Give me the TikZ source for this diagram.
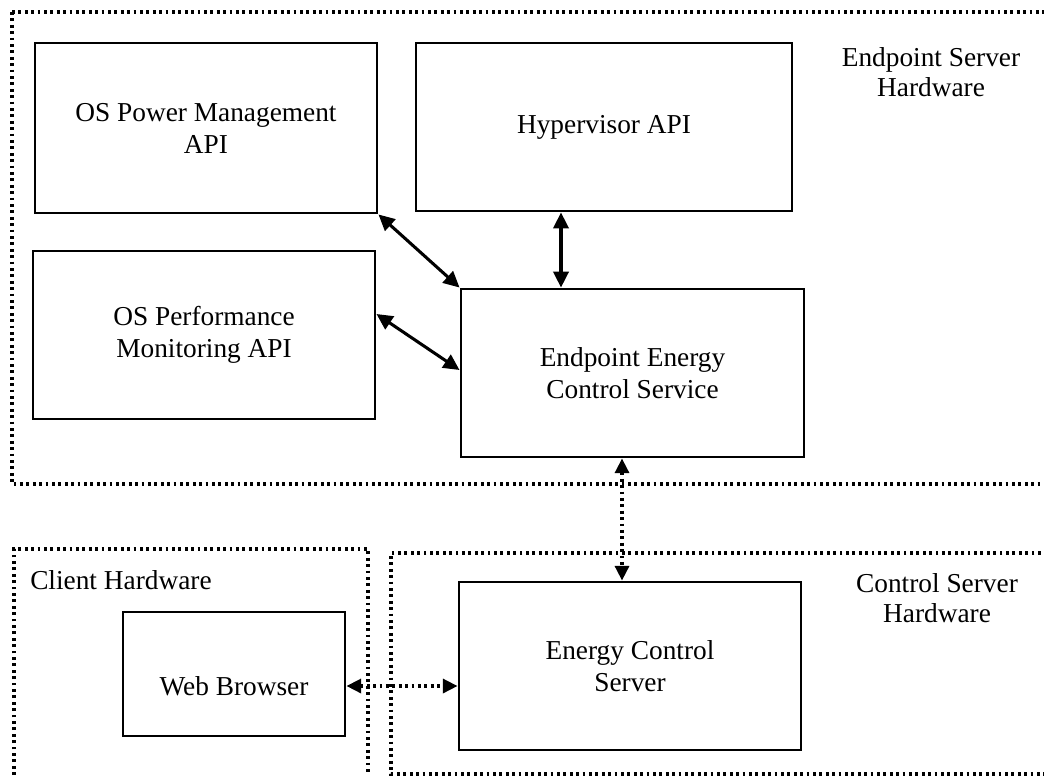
\documentclass[tikz,border=0pt]{standalone}
\usepackage{fontspec}
\setmainfont{Liberation Serif}
\usetikzlibrary{arrows.meta}

\tikzstyle{block}=[rectangle,draw=black,line width=2.2pt,text centered,align=center,inner sep=0pt,font=\fontsize{20.5}{24}\selectfont]
\tikzstyle{frame}=[draw=black,line width=2.4pt,dash pattern=on 2.1pt off 2.7pt]
\tikzstyle{title}=[align=center,inner sep=0pt,font=\fontsize{20.5}{22.5}\selectfont]
\tikzstyle{link}=[{Triangle[length=12pt,width=11.5pt]}-{Triangle[length=12pt,width=11.5pt]},line width=2.3pt]
\tikzstyle{remote}=[{Triangle[length=11pt,width=10.5pt]}-{Triangle[length=11pt,width=10.5pt]},line width=2.4pt,dash pattern=on 2.1pt off 2.7pt]

\begin{document}
\begin{tikzpicture}[x=0.75pt,y=-0.75pt]
\useasboundingbox (0,0) rectangle (1044,776);
% hardware frames
\draw[frame](12,12)--(1060,12);
\draw[frame](12,12)--(12,484)--(1060,484);
\draw[frame](14,775)--(14,549)--(368,549)--(368,775);
\draw[frame](1060,553)--(391,553)--(391,774)--(1060,774);
\node(endhw)[title] at (931,72){Endpoint Server\\Hardware};
\node(clienthw)[title,anchor=west] at (30,580){Client Hardware};
\node(ctrlhw)[title] at (937,598){Control Server\\Hardware};
% endpoint server
\node(power)[block,minimum width=342*0.75pt,minimum height=170*0.75pt] at (206,128){OS Power Management\\API};
\node(hyper)[block,minimum width=376*0.75pt,minimum height=168*0.75pt] at (604,127){Hypervisor API};
\node(perf)[block,minimum width=342*0.75pt,minimum height=168*0.75pt] at (204,335){OS Performance\\Monitoring API};
\node(service)[block,minimum width=343*0.75pt,minimum height=168*0.75pt] at (632.5,373){Endpoint Energy\\Control Service};
% client and control server
\node(browser)[block,minimum width=222*0.75pt,minimum height=124*0.75pt,text height=35.6pt,text depth=4pt] at (234,674){Web Browser};
\node(server)[block,minimum width=342*0.75pt,minimum height=168*0.75pt] at (630,666){Energy Control\\Server};
% connectors
\draw[link](power.south east)--(service.north west);
\draw[link](hyper.south-|561,0)--(service.north-|561,0);
\draw[link](perf.east|-0,314)--(service.west|-0,370);
\draw[remote](service.south-|622,0)--(server.north-|622,0);
\draw[remote](browser.east|-0,686)--(server.west|-0,686);
\end{tikzpicture}
\end{document}
